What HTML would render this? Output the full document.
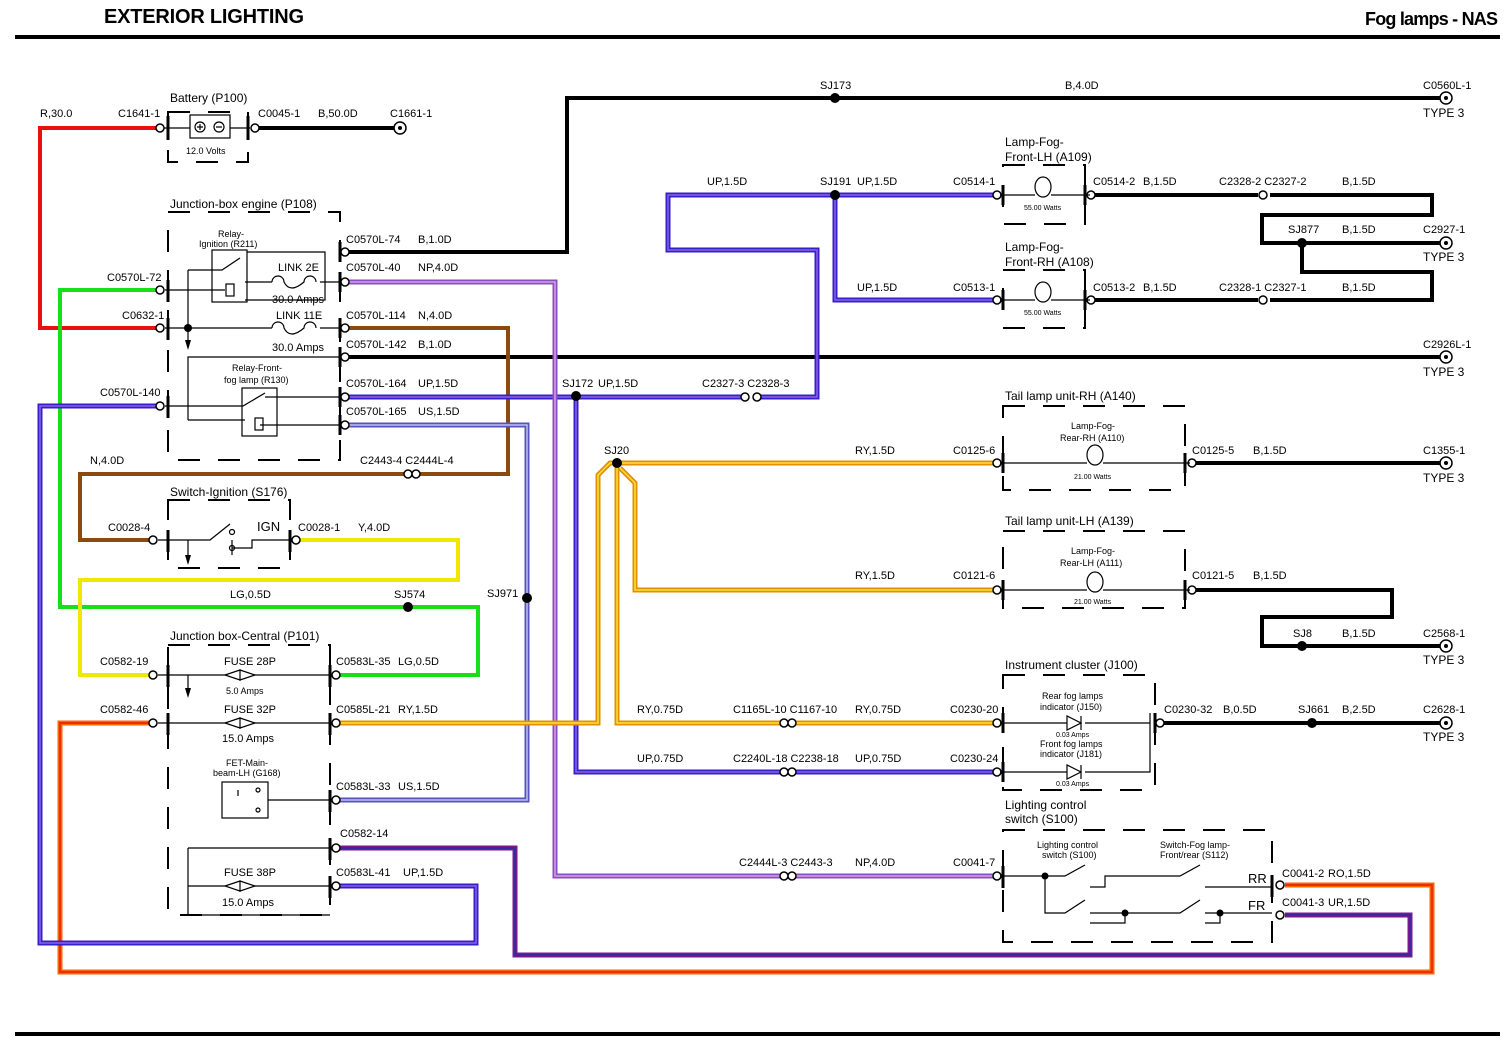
<!DOCTYPE html>
<html><head><meta charset="utf-8"><style>
html,body{margin:0;padding:0;background:#fff}
svg{display:block}
text{font-family:"Liberation Sans",Arial,sans-serif;font-size:11px;fill:#000}
.s{font-size:9px}.xs{font-size:7px}.m{font-size:12px}.l{font-size:13px}
.w{fill:none;stroke-linejoin:miter;stroke-linecap:butt}
.k{stroke:#000;stroke-width:4}
.t{stroke:#000;stroke-width:1.2;fill:none}
.d{fill:none;stroke:#000;stroke-width:2;stroke-dasharray:22 18}
.c{fill:#fff;stroke:#000;stroke-width:1.5}
</style></head><body>
<svg width="1509" height="1044" viewBox="0 0 1509 1044" xmlns="http://www.w3.org/2000/svg">
<rect width="1509" height="1044" fill="#fff"/>
<text x="104" y="23" style="font-size:20px;font-weight:bold" textLength="200">EXTERIOR LIGHTING</text>
<text x="1365" y="25" style="font-size:18px;font-weight:bold" textLength="133">Fog lamps - NAS</text>
<line x1="15" y1="37" x2="1500" y2="37" stroke="#000" stroke-width="4"/>
<line x1="15" y1="1034" x2="1500" y2="1034" stroke="#000" stroke-width="4"/>

<!-- black wires -->
<g class="w k">
<path d="M258 128H395"/>
<path d="M345 252H567V98H1440"/>
<path d="M345 357H1440"/>
<path d="M1093 195H1258M1270 195H1432V215H1262V243H1440M1302 243V272H1432V300H1270M1093 300H1258"/>
<path d="M1190 463H1440"/>
<path d="M1190 590H1392V617H1262V646H1440"/>
<path d="M1160 723H1440"/>
</g>
<!-- single colour -->
<path class="w" stroke="#e81010" stroke-width="4" d="M160 328H40V128H160"/>
<path class="w" stroke="#18e018" stroke-width="4" d="M160 290H60V607H478V675H340"/>
<path class="w" stroke="#8a4a10" stroke-width="4" d="M345 328H508V474H418M404 474H80V540H152"/>
<path class="w" stroke="#f0e800" stroke-width="4" d="M298 540H458V580H80V675H152"/>
<!-- bicolour -->
<g class="w">
<path stroke="#ff6400" stroke-width="5" d="M152 723H60V972H1432V885H1285"/>
<path stroke="#e02000" stroke-width="1.5" d="M152 723H60V972H1432V885H1285"/>
<path stroke="#7a1a8a" stroke-width="5" d="M340 848H515V955H1410V915H1285"/>
<path stroke="#2a2aa8" stroke-width="1.5" d="M340 848H515V955H1410V915H1285"/>
<path stroke="#3322cc" stroke-width="5" d="M160 406H40V943H476V886H340"/>
<path stroke="#9060e0" stroke-width="1.5" d="M160 406H40V943H476V886H340"/>
<path stroke="#3322cc" stroke-width="5" d="M345 397H742M760 397H817V250H668V195H995M835 195V300H995M576 397V772H780M795 772H995"/>
<path stroke="#9060e0" stroke-width="1.5" d="M345 397H742M760 397H817V250H668V195H995M835 195V300H995M576 397V772H780M795 772H995"/>
<path stroke="#5555bb" stroke-width="5" d="M345 425H527V800H340"/>
<path stroke="#c0c0ee" stroke-width="1.5" d="M345 425H527V800H340"/>
<path stroke="#8a50c0" stroke-width="5" d="M345 282H555V876H780M795 876H995"/>
<path stroke="#d8a0e8" stroke-width="1.5" d="M345 282H555V876H780M795 876H995"/>
<path stroke="#e09000" stroke-width="5" d="M340 723H598V475L610 463H995M617 463V723H780M795 723H995M620 468L635 483V590H995"/>
<path stroke="#ffe040" stroke-width="1.5" d="M340 723H598V475L610 463H995M617 463V723H780M795 723H995M620 468L635 483V590H995"/>
</g>

<!-- splice dots -->
<g fill="#000">
<circle cx="835" cy="98" r="5"/><circle cx="835" cy="195" r="5"/><circle cx="576" cy="396" r="5"/>
<circle cx="617" cy="463" r="5"/><circle cx="408" cy="607" r="5"/><circle cx="527" cy="598" r="5"/>
<circle cx="1302" cy="243" r="5"/><circle cx="1302" cy="646" r="5"/><circle cx="1312" cy="723" r="5"/>
<circle cx="188" cy="328" r="4"/>
</g>

<!-- dashed boxes -->
<rect class="d" x="168" y="112" width="80" height="50"/>
<rect class="d" x="168" y="212" width="172" height="248"/>
<rect class="d" x="168" y="500" width="122" height="68"/>
<rect class="d" x="168" y="645" width="162" height="270"/>
<rect class="d" x="1003" y="165" width="82" height="59"/>
<rect class="d" x="1003" y="270" width="82" height="58"/>
<rect class="d" x="1003" y="406" width="182" height="84"/>
<rect class="d" x="1003" y="531" width="182" height="77"/>
<rect class="d" x="1003" y="675" width="152" height="115"/>
<rect class="d" x="1003" y="830" width="269" height="112"/>

<!-- edge bars -->
<g stroke="#000" stroke-width="3">
<path d="M168 116v24M168 280v22M168 318v22M168 396v22M248 116v24M340 242v20M340 272v20M340 318v20M340 347v20M340 387v20M340 415v20"/>
<path d="M168 530v22M290 530v22M168 665v22M168 713v22M330 665v22M330 713v22M330 790v22M330 838v22M330 876v22"/>
<path d="M1003 185v20M1085 185v20M1003 290v20M1085 290v20M1003 453v20M1185 453v20M1003 580v20M1185 580v20M1003 713v20M1003 762v20M1155 713v20M1003 866v22M1272 875v22"/>
</g>

<!-- connectors -->
<g class="c">
<circle cx="160" cy="128" r="4"/><circle cx="255" cy="128" r="4"/><circle cx="160" cy="290" r="4"/><circle cx="160" cy="328" r="4"/><circle cx="160" cy="406" r="4"/>
<circle cx="345" cy="252" r="4"/><circle cx="345" cy="282" r="4"/><circle cx="345" cy="328" r="4"/><circle cx="345" cy="357" r="4"/><circle cx="345" cy="397" r="4"/><circle cx="345" cy="425" r="4"/>
<circle cx="745" cy="397" r="4"/><circle cx="757" cy="397" r="4"/>
<circle cx="408" cy="474" r="4"/><circle cx="416" cy="474" r="4"/>
<circle cx="153" cy="540" r="4"/><circle cx="296" cy="540" r="4"/>
<circle cx="153" cy="675" r="4"/><circle cx="153" cy="723" r="4"/>
<circle cx="336" cy="675" r="4"/><circle cx="336" cy="723" r="4"/><circle cx="336" cy="800" r="4"/><circle cx="336" cy="848" r="4"/><circle cx="336" cy="886" r="4"/>
<circle cx="784" cy="723" r="4"/><circle cx="792" cy="723" r="4"/><circle cx="784" cy="772" r="4"/><circle cx="792" cy="772" r="4"/><circle cx="784" cy="876" r="4"/><circle cx="792" cy="876" r="4"/>
<circle cx="997" cy="195" r="4"/><circle cx="1091" cy="195" r="4"/><circle cx="997" cy="300" r="4"/><circle cx="1091" cy="300" r="4"/>
<circle cx="1263" cy="195" r="4"/><circle cx="1263" cy="300" r="4"/>
<circle cx="997" cy="463" r="4"/><circle cx="1192" cy="463" r="4"/><circle cx="997" cy="590" r="4"/><circle cx="1192" cy="590" r="4"/>
<circle cx="997" cy="723" r="4"/><circle cx="997" cy="772" r="4"/><circle cx="1160" cy="723" r="4"/><circle cx="997" cy="876" r="4"/>
<circle cx="1280" cy="885" r="4"/><circle cx="1280" cy="915" r="4"/>
</g>
<!-- type 3 rings -->
<g class="c" stroke-width="2">
<circle cx="400" cy="128" r="6"/><circle cx="1446" cy="98" r="6"/><circle cx="1446" cy="243" r="6"/><circle cx="1446" cy="357" r="6"/><circle cx="1446" cy="463" r="6"/><circle cx="1446" cy="646" r="6"/><circle cx="1446" cy="723" r="6"/>
</g>
<g fill="#000"><circle cx="400" cy="128" r="2"/><circle cx="1446" cy="98" r="2"/><circle cx="1446" cy="243" r="2"/><circle cx="1446" cy="357" r="2"/><circle cx="1446" cy="463" r="2"/><circle cx="1446" cy="646" r="2"/><circle cx="1446" cy="723" r="2"/></g>

<!-- battery -->
<rect x="190" y="115" width="40" height="23" class="t"/>
<circle cx="200" cy="127" r="5" class="t"/><circle cx="219" cy="127" r="5" class="t"/>
<path class="t" d="M197 127h6M200 124v6M216 127h6M164 128H190M230 128H250"/>

<!-- engine box internals -->
<rect x="212" y="250" width="35" height="52" class="t"/>
<path class="t" d="M165 290H225M188 270V345M188 270H222L240 258M247 252H325V300H245M245 282H272M320 282H340M165 328H272M320 328H340M188 420V357H340M165 406H243L265 393M265 397H340M260 425H340M188 420H245"/>
<path class="t" d="M272 282a6 6 0 1 1 12 0q6 12 20 0a6 6 0 1 1 12 0M272 328a6 6 0 1 1 12 0q6 12 20 0a6 6 0 1 1 12 0"/>
<rect x="226" y="284" width="8" height="12" class="t"/>
<rect x="242" y="388" width="35" height="48" class="t"/>
<rect x="255" y="418" width="8" height="12" class="t"/>
<path d="M185 340l3 10 3-10z" fill="#000"/>
<text x="218" y="237" class="s">Relay-</text><text x="199" y="247" class="s">Ignition (R211)</text>
<text x="232" y="371" class="s">Relay-Front-</text><text x="224" y="383" class="s">fog lamp (R130)</text>

<!-- ignition switch internals -->
<path class="t" d="M158 540H210L230 524M188 540V555M232 540V555M232 548H252V540H292"/>
<circle cx="232" cy="532" r="2.5" class="t"/><circle cx="232" cy="548" r="2.5" class="t"/>
<path d="M185 555l3 10 3-10z" fill="#000"/>

<!-- central internals -->
<path class="t" d="M158 675H225M255 675H330M158 723H225M255 723H330M188 675V690M188 848V915H330M188 848H330M188 886H225M255 886H330"/>
<path class="t" d="M225 675l15 -5v10l-15 -5zM255 675l-15 -5v10zM225 723l15 -5v10zM255 723l-15 -5v10zM225 886l15 -5v10zM255 886l-15 -5v10z"/>
<path d="M185 688l3 10 3-10z" fill="#000"/>
<rect x="222" y="782" width="46" height="36" class="t"/>
<path class="t" d="M268 800H330M238 790v6"/>
<circle cx="258" cy="790" r="2" class="t"/><circle cx="258" cy="810" r="2" class="t"/>

<!-- lamps -->
<g class="t">
<path d="M1000 195H1035M1051 195H1090M1000 300H1035M1051 300H1090M1000 463H1087M1103 463H1190M1000 590H1087M1103 590H1190"/>
<ellipse cx="1043" cy="187" rx="8" ry="10"/><ellipse cx="1043" cy="292" rx="8" ry="10"/>
<ellipse cx="1095" cy="455" rx="8" ry="10"/><ellipse cx="1095" cy="582" rx="8" ry="10"/>
<path d="M1000 723H1067M1085 723H1150V713M1150 723V740M1000 772H1067M1085 772H1150V740"/>
<path d="M1067 716v14l14-7zM1081 716v14M1067 765v14l14-7zM1081 765v14"/>
<!-- lighting switch -->
<path d="M1000 876H1045V913H1065L1085 900M1045 876H1065L1085 865M1090 887H1105V876H1180L1200 865M1205 887H1272M1090 913H1180L1200 900M1090 923H1125V913M1205 913H1272M1205 923H1220V913"/>
</g>
<g fill="#000"><circle cx="1045" cy="876" r="3.5"/><circle cx="1125" cy="913" r="3.5"/><circle cx="1220" cy="913" r="3.5"/></g>

<!-- labels -->
<text x="40" y="117">R,30.0</text><text x="118" y="117">C1641-1</text>
<text x="170" y="102" class="m">Battery (P100)</text>
<text x="258" y="117">C0045-1</text><text x="318" y="117">B,50.0D</text><text x="390" y="117">C1661-1</text>
<text x="186" y="154" class="s">12.0 Volts</text>
<text x="170" y="208" class="m">Junction-box engine (P108)</text>
<text x="346" y="243">C0570L-74</text><text x="418" y="243">B,1.0D</text>
<text x="346" y="271">C0570L-40</text><text x="418" y="271">NP,4.0D</text>
<text x="278" y="271">LINK 2E</text><text x="272" y="303">30.0 Amps</text>
<text x="107" y="281">C0570L-72</text><text x="122" y="319">C0632-1</text>
<text x="276" y="319">LINK 11E</text>
<text x="346" y="319">C0570L-114</text><text x="418" y="319">N,4.0D</text>
<text x="272" y="351">30.0 Amps</text>
<text x="346" y="348">C0570L-142</text><text x="418" y="348">B,1.0D</text>
<text x="346" y="387">C0570L-164</text><text x="418" y="387">UP,1.5D</text>
<text x="100" y="396">C0570L-140</text>
<text x="346" y="415">C0570L-165</text><text x="418" y="415">US,1.5D</text>
<text x="820" y="89">SJ173</text><text x="1065" y="89">B,4.0D</text><text x="1423" y="89">C0560L-1</text><text x="1423" y="117" class="m">TYPE 3</text>
<text x="707" y="185">UP,1.5D</text><text x="820" y="185">SJ191</text><text x="857" y="185">UP,1.5D</text><text x="953" y="185">C0514-1</text>
<text x="1005" y="146" class="m">Lamp-Fog-</text><text x="1005" y="161" class="m">Front-LH (A109)</text>
<text x="1024" y="210" class="xs">55.00 Watts</text>
<text x="1093" y="185">C0514-2</text><text x="1143" y="185">B,1.5D</text><text x="1219" y="185">C2328-2 C2327-2</text><text x="1342" y="185">B,1.5D</text>
<text x="1288" y="233">SJ877</text><text x="1342" y="233">B,1.5D</text><text x="1423" y="233">C2927-1</text><text x="1423" y="261" class="m">TYPE 3</text>
<text x="1005" y="251" class="m">Lamp-Fog-</text><text x="1005" y="266" class="m">Front-RH (A108)</text>
<text x="1024" y="315" class="xs">55.00 Watts</text>
<text x="857" y="291">UP,1.5D</text><text x="953" y="291">C0513-1</text><text x="1093" y="291">C0513-2</text><text x="1143" y="291">B,1.5D</text><text x="1219" y="291">C2328-1 C2327-1</text><text x="1342" y="291">B,1.5D</text>
<text x="1423" y="348">C2926L-1</text><text x="1423" y="376" class="m">TYPE 3</text>
<text x="562" y="387">SJ172</text><text x="598" y="387">UP,1.5D</text><text x="702" y="387">C2327-3 C2328-3</text>
<text x="1005" y="400" class="m">Tail lamp unit-RH (A140)</text>
<text x="1071" y="429" class="s">Lamp-Fog-</text><text x="1060" y="441" class="s">Rear-RH (A110)</text>
<text x="1074" y="479" class="xs">21.00 Watts</text>
<text x="360" y="464">C2443-4 C2444L-4</text><text x="90" y="464">N,4.0D</text>
<text x="604" y="454">SJ20</text>
<text x="855" y="454">RY,1.5D</text><text x="953" y="454">C0125-6</text><text x="1192" y="454">C0125-5</text><text x="1253" y="454">B,1.5D</text><text x="1423" y="454">C1355-1</text><text x="1423" y="482" class="m">TYPE 3</text>
<text x="170" y="496" class="m">Switch-Ignition (S176)</text>
<text x="1005" y="525" class="m">Tail lamp unit-LH (A139)</text>
<text x="108" y="531">C0028-4</text><text x="257" y="531" class="l">IGN</text><text x="298" y="531">C0028-1</text><text x="358" y="531">Y,4.0D</text>
<text x="855" y="579">RY,1.5D</text><text x="953" y="579">C0121-6</text><text x="1192" y="579">C0121-5</text><text x="1253" y="579">B,1.5D</text>
<text x="1071" y="554" class="s">Lamp-Fog-</text><text x="1060" y="566" class="s">Rear-LH (A111)</text>
<text x="1074" y="604" class="xs">21.00 Watts</text>
<text x="487" y="597">SJ971</text><text x="230" y="598">LG,0.5D</text><text x="394" y="598">SJ574</text>
<text x="1293" y="637">SJ8</text><text x="1342" y="637">B,1.5D</text><text x="1423" y="637">C2568-1</text><text x="1423" y="664" class="m">TYPE 3</text>
<text x="170" y="640" class="m">Junction box-Central (P101)</text>
<text x="1005" y="669" class="m">Instrument cluster (J100)</text>
<text x="100" y="665">C0582-19</text><text x="224" y="665">FUSE 28P</text><text x="336" y="665">C0583L-35</text><text x="398" y="665">LG,0.5D</text>
<text x="226" y="694" class="s">5.0 Amps</text>
<text x="1042" y="699" class="s">Rear fog lamps</text><text x="1040" y="710" class="s">indicator (J150)</text>
<text x="100" y="713">C0582-46</text><text x="224" y="713">FUSE 32P</text><text x="336" y="713">C0585L-21</text><text x="398" y="713">RY,1.5D</text>
<text x="637" y="713">RY,0.75D</text><text x="733" y="713">C1165L-10 C1167-10</text><text x="855" y="713">RY,0.75D</text><text x="950" y="713">C0230-20</text>
<text x="1164" y="713">C0230-32</text><text x="1223" y="713">B,0.5D</text><text x="1298" y="713">SJ661</text><text x="1342" y="713">B,2.5D</text><text x="1423" y="713">C2628-1</text><text x="1423" y="741" class="m">TYPE 3</text>
<text x="222" y="742">15.0 Amps</text>
<text x="1056" y="737" class="xs">0.03 Amps</text>
<text x="1040" y="747" class="s">Front fog lamps</text><text x="1040" y="757" class="s">indicator (J181)</text>
<text x="1056" y="786" class="xs">0.03 Amps</text>
<text x="226" y="766" class="s">FET-Main-</text><text x="213" y="776" class="s">beam-LH (G168)</text>
<text x="637" y="762">UP,0.75D</text><text x="733" y="762">C2240L-18 C2238-18</text><text x="855" y="762">UP,0.75D</text><text x="950" y="762">C0230-24</text>
<text x="336" y="790">C0583L-33</text><text x="398" y="790">US,1.5D</text>
<text x="1005" y="809" class="m">Lighting control</text><text x="1005" y="823" class="m">switch (S100)</text>
<text x="340" y="837">C0582-14</text>
<text x="1037" y="848" class="s">Lighting control</text><text x="1042" y="858" class="s">switch (S100)</text>
<text x="1160" y="848" class="s">Switch-Fog lamp-</text><text x="1160" y="858" class="s">Front/rear (S112)</text>
<text x="739" y="866">C2444L-3 C2443-3</text><text x="855" y="866">NP,4.0D</text><text x="953" y="866">C0041-7</text>
<text x="224" y="876">FUSE 38P</text><text x="336" y="876">C0583L-41</text><text x="403" y="876">UP,1.5D</text>
<text x="1248" y="883" class="l">RR</text><text x="1282" y="877">C0041-2</text><text x="1328" y="877">RO,1.5D</text>
<text x="222" y="906">15.0 Amps</text>
<text x="1248" y="910" class="l">FR</text><text x="1282" y="906">C0041-3</text><text x="1328" y="906">UR,1.5D</text>
</svg>
</body></html>
